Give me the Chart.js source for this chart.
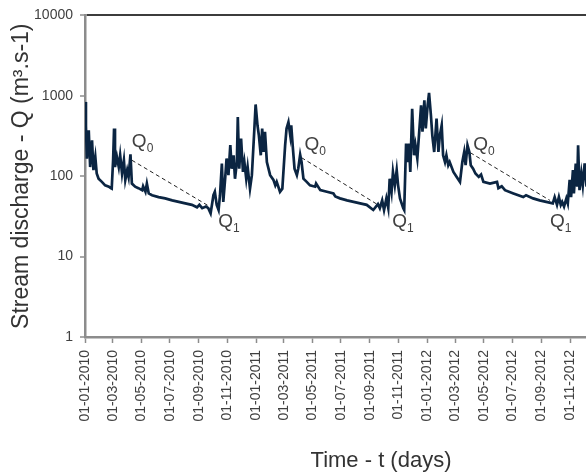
<!DOCTYPE html>
<html>
<head>
<meta charset="utf-8">
<script src="https://cdn.jsdelivr.net/npm/chart.js@4.4.1/dist/chart.umd.min.js"></script>
<style>
  html, body { margin: 0; padding: 0; background: #fff; overflow: hidden; }
  #wrap { width: 586px; height: 476px; overflow: hidden; }
</style>
</head>
<body>
<div id="wrap"><canvas id="flow" width="700" height="476"></canvas></div>
<script>
// discharge record, day counted from 01-01-2010
var days = [
  0, 2, 4, 8, 11, 15, 18, 22, 25, 29, 36, 43, 51, 55, 57, 60, 62, 64, 68, 72,
  75, 79, 83, 86, 90, 93, 97, 100, 107, 114, 122, 124, 129, 132, 136, 143, 157, 171, 186, 200,
  214, 228, 239, 244, 250,
  258, 263, 268, 274, 277, 281, 285, 288, 292, 295, 299, 302, 306, 310, 313, 317, 320, 324, 326, 329,
  333, 337, 340, 344, 347, 352, 356, 361, 364, 368, 371, 375, 378, 381, 384, 388, 395, 402, 406, 409,
  416, 421, 427, 430, 434, 438, 440, 443, 447, 452, 455, 459, 462, 466,
  473, 480, 491, 493, 502, 516, 530, 534, 544, 559, 573, 587, 601, 615,
  625, 629, 634, 638, 643, 647, 650, 654, 657, 661, 665, 668, 672, 679, 681, 685, 688, 691, 694, 698,
  702, 705, 709, 712, 717, 720, 724, 727, 731, 734, 738, 741, 745, 750, 754, 757, 761, 764, 768, 771,
  775, 778, 786, 793, 800, 805, 809, 812, 816, 820, 823, 828, 833,
  840, 845, 850, 864, 879, 882, 889, 896, 914, 935, 941, 956, 970, 984, 998, 1002, 1007, 1011, 1015, 1018,
  1022, 1027, 1030, 1034, 1037, 1041, 1043, 1047, 1050, 1052, 1055, 1059, 1062, 1066, 1070];
var discharge = [
  840, 420, 165, 373, 130, 280, 119, 174, 108, 93, 85, 77, 74, 71, 70, 160, 392, 130, 174, 130,
  182, 108, 158, 90, 119, 98, 187, 81, 74, 71, 67, 75, 64, 81, 61, 58, 55, 53, 50, 48,
  46, 44, 41, 44, 40,
  42, 40, 34.5, 58, 64, 44, 38, 58, 144, 48, 93, 166, 103, 243, 124, 182, 93, 150, 545, 124,
  294, 113, 150, 93, 130, 70, 103, 357, 780, 430, 320, 182, 392, 200, 357, 150, 103, 90, 77, 85,
  64, 70, 243, 392, 470, 320, 430, 243, 124, 103, 125, 185, 150, 93,
  85, 77, 74, 81, 67, 64, 61, 56, 53, 50, 48, 46, 44, 38,
  45, 40, 50, 38, 53, 40, 93, 64, 113, 77, 119, 77, 53, 40, 38, 255, 150, 255, 113, 690,
  182, 243, 166, 294, 760, 357, 880, 392, 760, 1090, 570, 320, 200, 520, 200, 320, 430, 182, 150, 182,
  137, 150, 113, 98, 85, 150, 200, 137, 243, 200, 137, 124, 108,
  98, 105, 85, 81, 85, 71, 75, 67, 61, 55, 58, 53, 50, 48, 46, 55, 44, 55, 44, 48,
  42, 53, 46, 90, 55, 119, 61, 144, 74, 243, 67, 108, 77, 144, 74];

// recession lines Q0 -> Q1
var recStartDay = [100, 462, 822];
var recStartQ = [158, 170, 196];
var recEndDay = [267, 632, 992];
var recEndQ = [41.6, 41.6, 50];

var xTickLabels = ['01-01-2010', '01-03-2010', '01-05-2010', '01-07-2010', '01-09-2010', '01-11-2010',
  '01-01-2011', '01-03-2011', '01-05-2011', '01-07-2011', '01-09-2011', '01-11-2011',
  '01-01-2012', '01-03-2012', '01-05-2012', '01-07-2012', '01-09-2012', '01-11-2012'];
var yTicks = [1, 10, 100, 1000, 10000];

// pixel nudges for the Q0 / Q1 labels
var q0Nudge = [[0, -13], [3, -8], [3, -3]];
var q1Nudge = [[8, 20], [11, 20], [0, 27]];

var FONT = '"Liberation Sans", Arial, sans-serif';
Chart.defaults.font.family = FONT;

function dayOf(label) {
  var p = label.split('-');
  return (Date.UTC(+p[2], +p[1] - 1, +p[0]) - Date.UTC(2010, 0, 1)) / 86400000;
}

function drawQ(ctx, px, py, sub) {
  ctx.font = '19px ' + FONT;
  ctx.fillText('Q', px, py);
  var w = ctx.measureText('Q').width;
  ctx.font = '12px ' + FONT;
  ctx.fillText(sub, px + w, py + 5);
}

var qLabels = {
  id: 'qLabels',
  afterDatasetsDraw: function(chart) {
    var ctx = chart.ctx, xs = chart.scales.x, ys = chart.scales.y;
    ctx.save();
    ctx.fillStyle = '#404040';
    ctx.textAlign = 'left';
    ctx.textBaseline = 'alphabetic';
    for (var i = 0; i < recStartDay.length; i++) {
      drawQ(ctx, xs.getPixelForValue(recStartDay[i]) + q0Nudge[i][0],
        ys.getPixelForValue(recStartQ[i]) + q0Nudge[i][1], '0');
      drawQ(ctx, xs.getPixelForValue(recEndDay[i]) + q1Nudge[i][0],
        ys.getPixelForValue(recEndQ[i]) + q1Nudge[i][1], '1');
    }
    ctx.restore();
  }
};

var datasets = [{
  data: days.map(function(d, i) { return {x: d, y: discharge[i]}; }),
  borderColor: '#0b2542',
  borderWidth: 2.7,
  pointRadius: 0,
  tension: 0
}];
for (var i = 0; i < recStartDay.length; i++) {
  datasets.push({
    data: [{x: recStartDay[i], y: recStartQ[i]}, {x: recEndDay[i], y: recEndQ[i]}],
    borderColor: '#222',
    borderWidth: 1,
    borderDash: [4, 3],
    pointRadius: 0
  });
}

var ctx = document.getElementById('flow').getContext('2d');
var chart = new Chart(ctx, {
  type: 'line',
  data: {datasets: datasets},
  plugins: [qLabels],
  options: {
    responsive: false,
    animation: false,
    layout: {padding: {top: 15, right: 23, left: 0, bottom: 0}},
    plugins: {legend: {display: false}, tooltip: {enabled: false}},
    scales: {
      x: {
        type: 'linear',
        min: 0,
        max: 1263,
        afterBuildTicks: function(s) {
          s.ticks = xTickLabels.map(function(l) { return {value: dayOf(l)}; });
        },
        afterFit: function(s) { s.height = 139; },
        ticks: {
          autoSkip: false,
          minRotation: 90,
          maxRotation: 90,
          padding: 7,
          color: '#404040',
          font: {size: 14},
          callback: function(v, i) { return xTickLabels[i]; }
        },
        grid: {drawOnChartArea: false, tickLength: 6, tickColor: '#8c8c8c', tickWidth: 1.5},
        border: {color: '#8c8c8c', width: 2.5},
        title: {display: true, text: 'Time - t (days)', color: '#333', font: {size: 22}, padding: {top: 0, bottom: 2}}
      },
      y: {
        type: 'logarithmic',
        min: 1,
        max: 10000,
        afterBuildTicks: function(s) {
          s.ticks = yTicks.map(function(v) { return {value: v}; });
        },
        afterFit: function(s) { s.width = 85; },
        ticks: {
          padding: 7,
          color: '#404040',
          font: {size: 14},
          callback: function(v) { return String(v); }
        },
        grid: {
          color: function(c) { return c.tick && c.tick.value === 10000 ? '#3c3c3c' : 'rgba(0,0,0,0)'; },
          lineWidth: 2,
          tickLength: 5,
          tickColor: '#8c8c8c',
          tickWidth: 1.5
        },
        border: {color: '#8c8c8c', width: 2.5},
        title: {display: true, text: 'Stream discharge - Q (m³.s-1)', color: '#333', font: {size: 23}, padding: {top: 8}}
      }
    }
  }
});
</script>
</body>
</html>
